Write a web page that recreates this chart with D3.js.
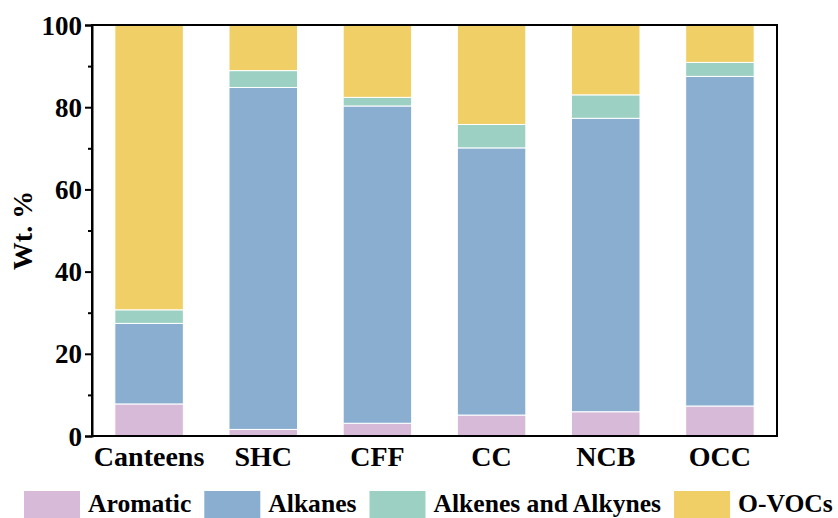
<!DOCTYPE html>
<html>
<head>
<meta charset="utf-8">
<script src="https://cdn.jsdelivr.net/npm/d3@7"></script>
<style>
  html, body { margin: 0; padding: 0; background: #fff; }
  svg { display: block; }
  text { font-family: "Liberation Serif", "Times New Roman", serif; font-weight: bold; fill: #000; }
</style>
</head>
<body>
<svg id="chart" width="838" height="518"></svg>
<script>
// ---- data ----
const categories = ["Canteens", "SHC", "CFF", "CC", "NCB", "OCC"];
const seriesNames = ["Aromatic", "Alkanes", "Alkenes and Alkynes", "O-VOCs"];
const aromatic = [7.8, 1.6, 3.1, 5.1, 5.9, 7.3];
const alkanes  = [19.6, 83.2, 77.2, 65.0, 71.4, 80.2];
const alkenes  = [3.3, 4.1, 2.1, 5.7, 5.7, 3.4];
const ovocs    = [69.3, 11.1, 17.6, 24.2, 17.0, 9.1];
const yTicks = [0, 20, 40, 60, 80, 100];
const yMinorTicks = [10, 30, 50, 70, 90];
const colors = ["#D7BAD8", "#89AED0", "#9BD0C3", "#F0CF66"];

// ---- layout ----
const svg = d3.select("#chart");
const margin = { left: 92, top: 25, right: 838 - 777, bottom: 518 - 436 };
const W = 838, H = 518;
const x0 = margin.left, x1 = W - margin.right, y0 = H - margin.bottom, y1 = margin.top;

const x = d3.scaleBand().domain(categories).range([x0, x1]).paddingInner(0.4).paddingOuter(0.2);
const y = d3.scaleLinear().domain([0, 100]).range([y0, y1]);
const color = d3.scaleOrdinal().domain(seriesNames).range(colors);

const table = categories.map((c, i) => ({
  cat: c,
  "Aromatic": aromatic[i],
  "Alkanes": alkanes[i],
  "Alkenes and Alkynes": alkenes[i],
  "O-VOCs": ovocs[i]
}));
const stacked = d3.stack().keys(seriesNames)(table);

// bars
svg.append("g").selectAll("g")
  .data(stacked).join("g")
  .attr("fill", d => color(d.key))
  .selectAll("rect")
  .data(d => d).join("rect")
  .attr("x", d => x(d.data.cat))
  .attr("width", x.bandwidth())
  .attr("y", d => y(Math.min(100, d[1])))
  .attr("height", d => y(d[0]) - y(Math.min(100, d[1])))
  .attr("stroke", "#fff")
  .attr("stroke-width", 1);

// frame
svg.append("rect")
  .attr("x", x0).attr("y", y1)
  .attr("width", x1 - x0).attr("height", y0 - y1)
  .attr("fill", "none").attr("stroke", "#000").attr("stroke-width", 2);

// y axis
const yAxis = d3.axisLeft(y).tickValues(yTicks).tickSize(7).tickPadding(3).tickFormat(d3.format("d"));
const gy = svg.append("g").attr("transform", `translate(${x0},0)`).call(yAxis);
gy.select(".domain").attr("stroke-width", 2);
gy.selectAll(".tick line").attr("stroke-width", 2);
gy.selectAll(".tick text").style("font-size", "27px").attr("dy", "0.34em")
  .style("font-family", "'Liberation Serif', serif").style("font-weight", "bold");

const yMinor = d3.axisLeft(y).tickValues(yMinorTicks).tickSize(4).tickFormat("");
const gym = svg.append("g").attr("transform", `translate(${x0},0)`).call(yMinor);
gym.select(".domain").remove();
gym.selectAll(".tick line").attr("stroke-width", 2);

// x axis labels
const xAxis = d3.axisBottom(x).tickSize(0).tickPadding(0);
const gx = svg.append("g").attr("transform", `translate(0,${y0})`).call(xAxis);
gx.select(".domain").remove();
gx.selectAll(".tick text").attr("y", 30).attr("dy", 0)
  .style("font-size", "28px").style("font-family", "'Liberation Serif', serif").style("font-weight", "bold");

// y label
svg.append("text")
  .attr("transform", `translate(32,${(y0 + y1) / 2}) rotate(-90)`)
  .attr("text-anchor", "middle")
  .style("font-size", "28px")
  .text("Wt. %");

// legend
const legend = svg.append("g");
let lx = 24;
seriesNames.forEach((name, i) => {
  legend.append("rect")
    .attr("x", lx).attr("y", 491).attr("width", 56).attr("height", 30)
    .attr("fill", color(name));
  const t = legend.append("text")
    .attr("x", lx + 64).attr("y", 512)
    .style("font-size", "25.6px")
    .text(name);
  lx = lx + 64 + t.node().getComputedTextLength() + 13;
});
</script>
</body>
</html>
